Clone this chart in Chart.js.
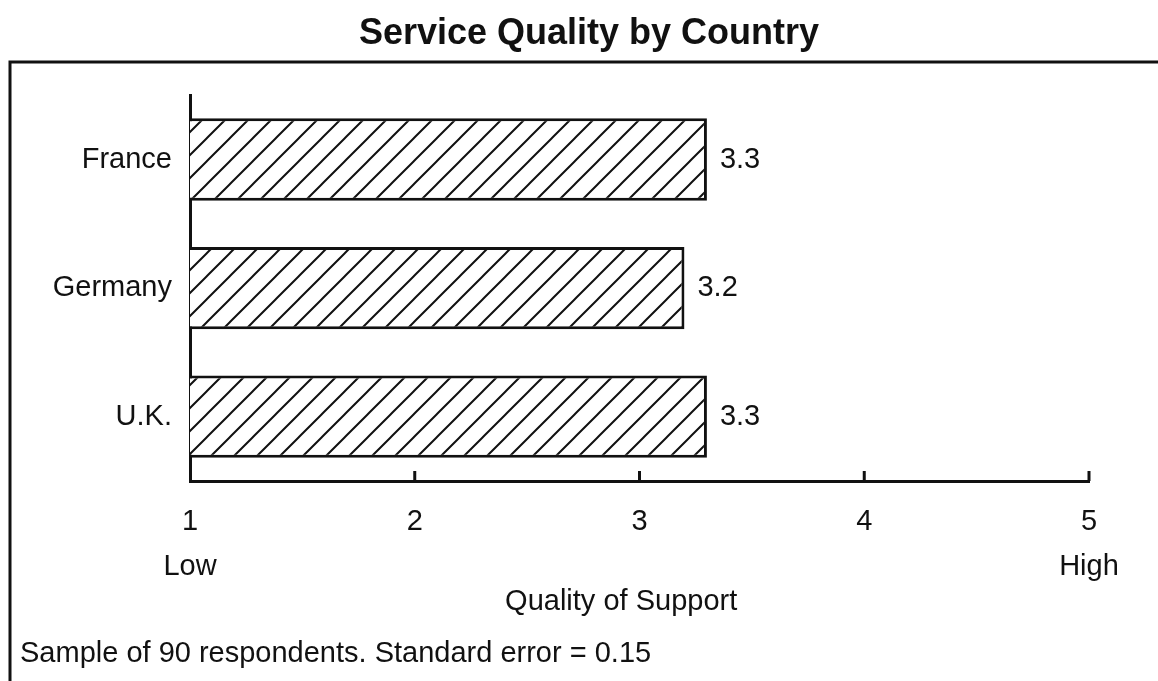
<!DOCTYPE html>
<html>
<head>
<meta charset="utf-8">
<script src="https://cdn.jsdelivr.net/npm/chart.js@4.4.0/dist/chart.umd.min.js"></script>
<style>
  html, body { margin: 0; padding: 0; background: #fff; }
</style>
</head>
<body>
<canvas id="chart" width="1158" height="681"></canvas>
<script>
const countries = ['France', 'Germany', 'U.K.'];
const quality = [3.3, 3.2, 3.3];
const scaleTicks = [1, 2, 3, 4, 5];
const tickWords = { 1: 'Low', 5: 'High' };
const axisTitle = 'Quality of Support';
const footnote = 'Sample of 90 respondents. Standard error = 0.15';

const FONT = '"Liberation Sans", Arial, Helvetica, sans-serif';
const INK = '#111';

const ctx = document.getElementById('chart').getContext('2d');

// diagonal "/" hatching for the bars
function hatch() {
  const size = 23;
  const c = document.createElement('canvas');
  c.width = size;
  c.height = size;
  const g = c.getContext('2d');
  g.fillStyle = '#fff';
  g.fillRect(0, 0, size, size);
  g.strokeStyle = INK;
  g.lineWidth = 2;
  g.beginPath();
  g.moveTo(-2, size + 2); g.lineTo(size + 2, -2);
  g.moveTo(-2, 2); g.lineTo(2, -2);
  g.moveTo(size - 2, size + 2); g.lineTo(size + 2, size - 2);
  g.stroke();
  return ctx.createPattern(c, 'repeat');
}

const decor = {
  id: 'decor',
  afterDraw(chart) {
    const c = chart.ctx;
    const x = chart.scales.x;
    const area = chart.chartArea;
    c.save();
    c.strokeStyle = INK;
    c.lineWidth = 3;
    // frame (left and top edges only)
    c.beginPath();
    c.moveTo(10, chart.height);
    c.lineTo(10, 62);
    c.lineTo(chart.width, 62);
    c.stroke();
    // tick marks point up into the plot
    c.beginPath();
    x.ticks.forEach((t, i) => {
      if (i === 0) return;
      const px = x.getPixelForTick(i);
      c.moveTo(px, area.bottom);
      c.lineTo(px, area.bottom - 10);
    });
    c.stroke();
    c.fillStyle = INK;
    c.font = '29px ' + FONT;
    c.textBaseline = 'middle';
    // value labels
    c.textAlign = 'left';
    chart.getDatasetMeta(0).data.forEach((bar, i) => {
      c.fillText(quality[i].toFixed(1), bar.x + 13, bar.y);
    });
    // axis title sits a little left of the plot centre
    c.textAlign = 'center';
    c.fillText(axisTitle, x.getPixelForValue(2.3) + 139, area.bottom + 121);
    // footnote
    c.textAlign = 'left';
    c.fillText(footnote, 20, 654);
    c.restore();
  }
};

new Chart(ctx, {
  type: 'bar',
  data: {
    labels: countries,
    datasets: [{
      data: quality,
      backgroundColor: hatch(),
      borderColor: INK,
      borderWidth: 3,
      borderSkipped: false,
      barPercentage: 0.64,
      categoryPercentage: 1
    }]
  },
  options: {
    indexAxis: 'y',
    responsive: false,
    animation: false,
    layout: { padding: { left: 20, right: 0, top: 0, bottom: 0 } },
    plugins: {
      legend: { display: false },
      tooltip: { enabled: false },
      title: {
        display: true,
        text: 'Service Quality by Country',
        color: INK,
        font: { family: FONT, size: 36, weight: 'bold', lineHeight: 1.2 },
        padding: { top: 12, bottom: 40 }
      }
    },
    scales: {
      x: {
        type: 'linear',
        min: 1,
        max: 5,
        afterFit(s) { s.height = 200; },
        afterBuildTicks(s) { s.ticks = scaleTicks.map(v => ({ value: v })); },
        grid: { display: false, drawTicks: false },
        border: { display: true, color: INK, width: 3 },
        ticks: {
          color: INK,
          font: { family: FONT, size: 29, lineHeight: 1.55 },
          padding: 19,
          maxRotation: 0,
          autoSkip: false,
          callback: v => tickWords[v] ? [String(v), tickWords[v]] : String(v)
        }
      },
      y: {
        afterFit(s) { s.width = 170; },
        grid: { display: false, drawTicks: false },
        border: { display: true, color: INK, width: 3 },
        ticks: { color: INK, font: { family: FONT, size: 29 }, padding: 18 }
      },
      spacer: {
        type: 'category',
        position: 'right',
        labels: [''],
        afterFit(s) { s.width = 69; },
        grid: { display: false, drawTicks: false },
        border: { display: false },
        ticks: { display: false }
      }
    }
  },
  plugins: [decor]
});
</script>
</body>
</html>
